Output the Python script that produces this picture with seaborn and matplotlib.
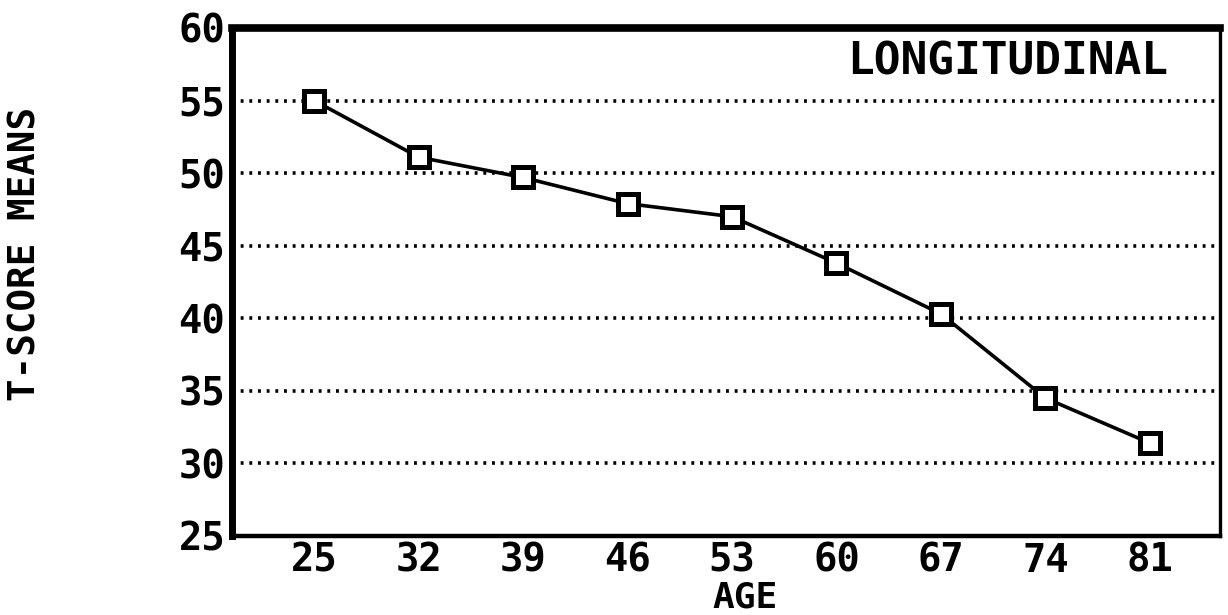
import numpy as np
import pandas as pd
import matplotlib
matplotlib.use("Agg")
import matplotlib.pyplot as plt
import seaborn as sns

# données
ages = [25, 32, 39, 46, 53, 60, 67, 74, 81]
t_scores = [55.0, 51.1, 49.7, 47.9, 47.0, 43.8, 40.3, 34.5, 31.4]
y_ticks = [25, 30, 35, 40, 45, 50, 55, 60]
panel_label = "LONGITUDINAL"

sns.set_style("white")
plt.rcParams['font.family'] = ['DejaVu Sans Mono', 'DejaVu Sans']
plt.rcParams['font.weight'] = 'bold'
for key in ['text.color', 'axes.labelcolor', 'xtick.color', 'ytick.color']:
    plt.rcParams[key] = 'black'

df = pd.DataFrame({'AGE': ages, 'T-SCORE MEANS': t_scores})

fig = plt.figure(figsize=(12.28, 6.15), dpi=100)
ax = fig.add_axes([0.189, 0.1285, 0.8045, 0.826])

sns.lineplot(data=df, x='AGE', y='T-SCORE MEANS', ax=ax, color='black',
             linewidth=2.6, marker='s', markersize=14,
             markerfacecolor='white', markeredgecolor='black',
             markeredgewidth=3.6, zorder=3)

ax.set_xlim(19.5, 85.7)
ax.set_ylim(25, 60)
ax.set_xticks(ages)
ax.set_yticks(y_ticks)
ax.tick_params(axis='both', length=0, labelsize=28)
ax.tick_params(axis='y', pad=5)
ax.tick_params(axis='x', pad=4)

ax.grid(axis='y', color='black', linestyle=(0, (0.8, 1.6)), linewidth=2.6)
ax.grid(axis='x', visible=False)

for side, lw in [('left', 5), ('top', 5.5), ('bottom', 3.2), ('right', 2.4)]:
    ax.spines[side].set_visible(True)
    ax.spines[side].set_color('black')
    ax.spines[side].set_linewidth(lw)

ax.set_xlabel('AGE', fontsize=26, fontweight='bold')
ax.xaxis.set_label_coords(0.519, -0.088)
ax.set_ylabel('T-SCORE MEANS', fontsize=27, fontweight='bold')
ax.yaxis.set_label_coords(-0.191, 0.555)

ax.text(0.785, 0.933, panel_label, transform=ax.transAxes, ha='center',
        va='center', fontsize=32, fontweight='bold')

plt.savefig('out.png', dpi=100)
